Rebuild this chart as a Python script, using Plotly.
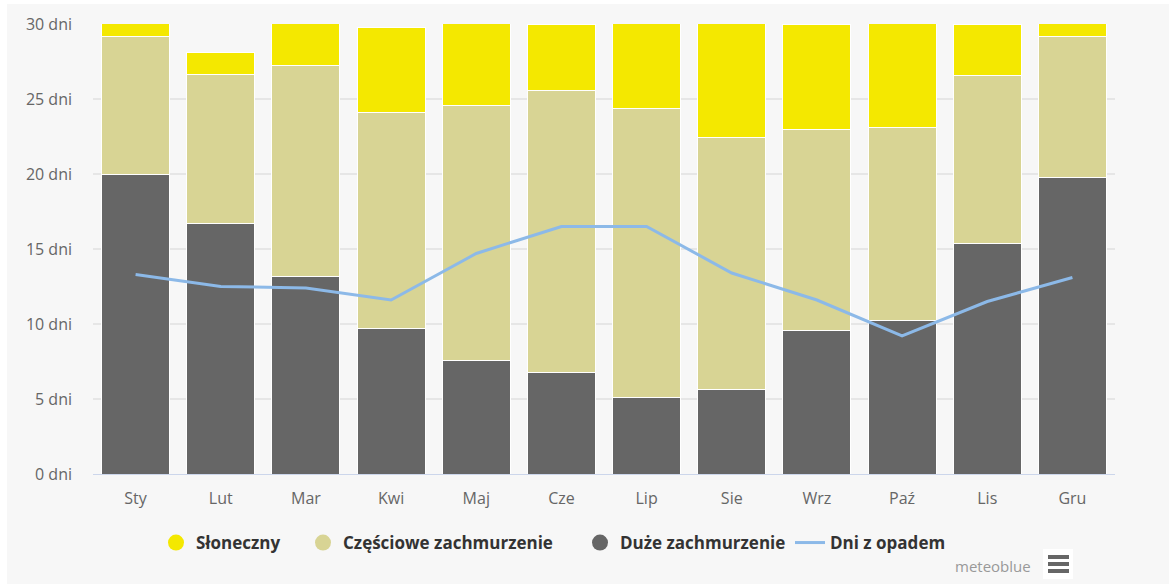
import plotly.graph_objects as go

# Monthly cloud-cover and precipitation days
months = ["Sty", "Lut", "Mar", "Kwi", "Maj", "Cze", "Lip", "Sie", "Wrz", "Paź", "Lis", "Gru"]
days_in_month = [31, 28.1, 31, 29.8, 31, 30, 31, 31, 30, 31, 30, 31]
overcast = [20.0, 16.7, 13.15, 9.7, 7.6, 6.8, 5.1, 5.65, 9.6, 10.25, 15.4, 19.75]
partly_cloudy_top = [29.15, 26.65, 27.25, 24.1, 24.6, 25.6, 24.4, 22.45, 22.95, 23.1, 26.6, 29.15]
precip_days = [13.3, 12.5, 12.4, 11.6, 14.7, 16.5, 16.5, 13.4, 11.6, 9.2, 11.5, 13.1]

partly_cloudy = [round(t - o, 2) for t, o in zip(partly_cloudy_top, overcast)]
sunny = [round(d - t, 2) for d, t in zip(days_in_month, partly_cloudy_top)]

y_ticks = [0, 5, 10, 15, 20, 25, 30]
y_tick_text = [f"{v} dni" for v in y_ticks]

W, H = 1169, 584
ML, MR, MT, MB = 93, 54, 24, 110
PW, PH = W - ML - MR, H - MT - MB


def px_x(px):
    return (px - ML) / PW


def px_y(py):
    return (H - MB - py) / PH


YELLOW = "#f4e800"
KHAKI = "#d8d494"
DARK = "#666666"
BLUE = "#8cb9e8"
BG = "#f7f7f7"

fig = go.Figure()

for name, vals, col in [
    ("Duże zachmurzenie", overcast, DARK),
    ("Częściowe zachmurzenie", partly_cloudy, KHAKI),
    ("Słoneczny", sunny, YELLOW),
]:
    fig.add_trace(go.Bar(
        x=months, y=vals, name=name, marker=dict(color=col, line=dict(color="white", width=1)),
        showlegend=False, hoverinfo="y+name",
    ))

fig.add_trace(go.Scatter(
    x=months, y=precip_days, name="Dni z opadem", mode="lines",
    line=dict(color=BLUE, width=3), showlegend=False,
))

# legend entries (one small legend per item so each can be placed on its own)
legend_items = [
    ("Słoneczny", YELLOW, "markers", "legend", 156),
    ("Częściowe zachmurzenie", KHAKI, "markers", "legend2", 303),
    ("Duże zachmurzenie", DARK, "markers", "legend3", 580),
    ("Dni z opadem", BLUE, "lines", "legend4", 790),
]
legend_font = dict(family="Open Sans", size=17, color="#333333", weight="bold")
legend_layouts = {}
for name, col, mode, leg, left_px in legend_items:
    if mode == "markers":
        fig.add_trace(go.Scatter(
            x=[None], y=[None], mode="markers", name=name, legend=leg,
            marker=dict(color=col, size=17, symbol="circle"),
        ))
    else:
        fig.add_trace(go.Scatter(
            x=[None], y=[None], mode="lines", name=name, legend=leg,
            line=dict(color=col, width=3),
        ))
    legend_layouts[leg] = dict(
        orientation="h", x=px_x(left_px), xanchor="left", y=px_y(543), yanchor="middle",
        font=legend_font, bgcolor="rgba(0,0,0,0)",
        itemclick=False, itemdoubleclick=False,
    )

shapes = [
    # chart container
    dict(type="rect", xref="paper", yref="paper", layer="below",
         x0=px_x(7), x1=px_x(W + 2), y0=px_y(H + 2), y1=px_y(4),
         fillcolor=BG, line=dict(width=0)),
    # menu button
    dict(type="rect", xref="paper", yref="paper", layer="above",
         x0=px_x(1043), x1=px_x(1073), y0=px_y(579), y1=px_y(549),
         fillcolor="white", line=dict(width=0)),
]
for cy in (557, 564, 571):
    shapes.append(dict(type="line", xref="paper", yref="paper", layer="above",
                       x0=px_x(1048), x1=px_x(1069), y0=px_y(cy), y1=px_y(cy),
                       line=dict(color="#666666", width=4)))

fig.update_layout(
    width=W, height=H,
    margin=dict(l=ML, r=MR, t=MT, b=MB),
    paper_bgcolor="white",
    plot_bgcolor=BG,
    barmode="stack",
    bargap=0.2,
    font=dict(family="Open Sans", size=16, color="#666666"),
    shapes=shapes,
    annotations=[dict(
        text="meteoblue", xref="paper", yref="paper", x=px_x(1033), y=px_y(566),
        xanchor="right", yanchor="middle", showarrow=False,
        font=dict(family="Open Sans", size=15, color="#999999"),
    )],
    showlegend=True,
    **legend_layouts,
)

fig.update_xaxes(
    showgrid=False, showline=True, linecolor="#ccd6eb", linewidth=1,
    ticks="", ticklabelstandoff=10, tickfont=dict(size=16, color="#666666"),
)
fig.update_yaxes(
    range=[0, 30], tickvals=y_ticks, ticktext=y_tick_text,
    showgrid=True, gridcolor="#e6e6e6", gridwidth=2, zeroline=False,
    ticks="", ticklabelstandoff=20, tickfont=dict(size=16, color="#666666"),
)

fig.write_html("out.html")
